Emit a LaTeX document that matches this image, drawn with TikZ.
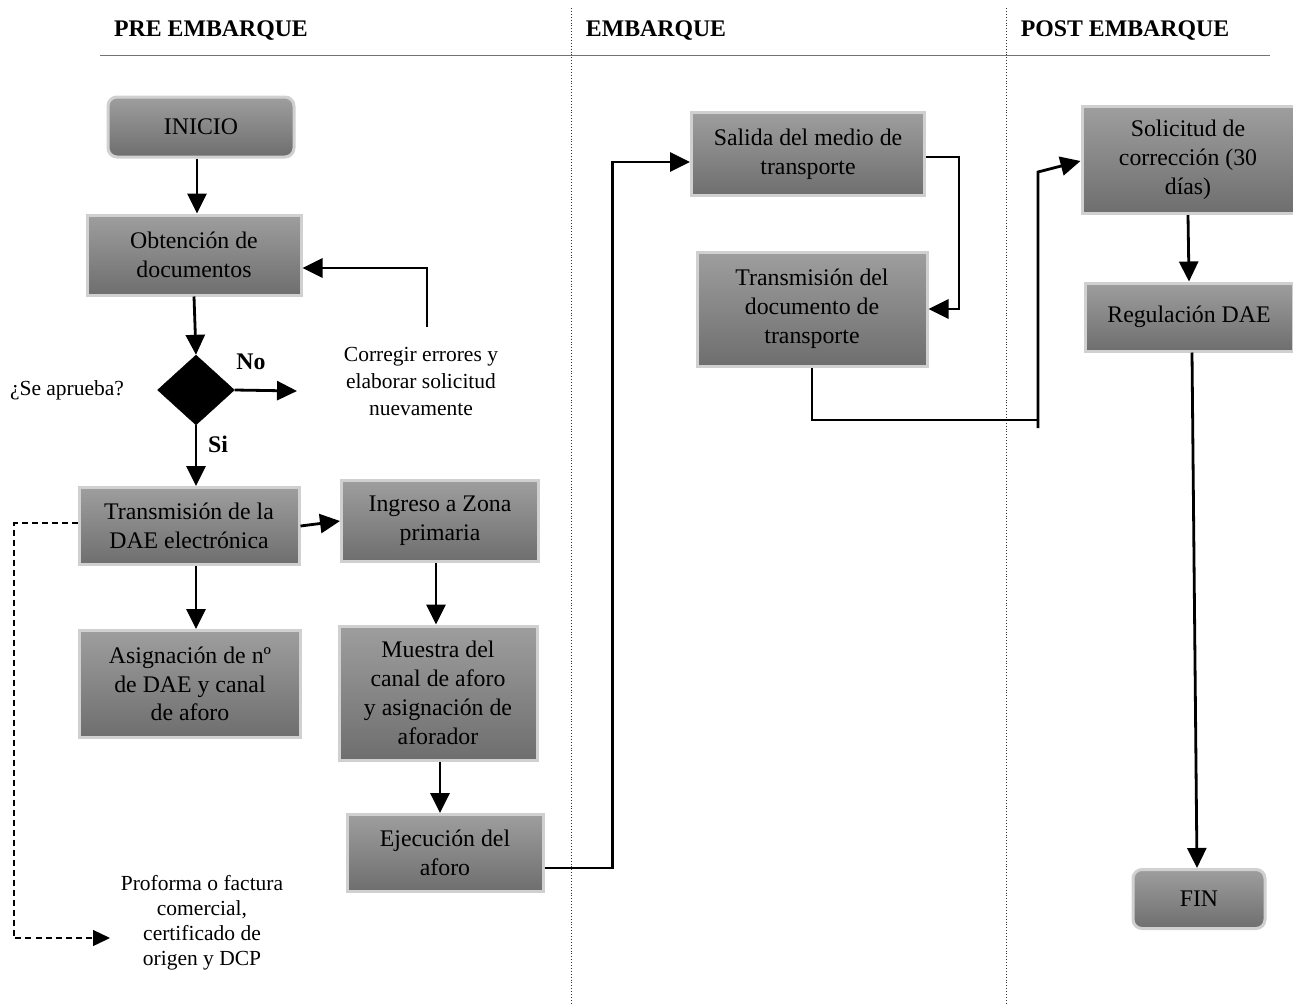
\documentclass[tikz,border=0pt]{standalone}
\usepackage{fontspec}
\setmainfont{Liberation Serif}
\usetikzlibrary{arrows.meta,shapes.geometric,calc}
\definecolor{boxtop}{RGB}{158,158,158}
\definecolor{boxbot}{RGB}{110,110,110}
\definecolor{boxedge}{RGB}{208,208,208}
\tikzset{
  procbox/.style={rectangle, draw=boxedge, line width=3pt, top color=boxtop, bottom color=boxbot,
    align=center, inner sep=2pt, font=\fontsize{23.8}{28.8}\selectfont},
  termbox/.style={procbox, rounded corners=9pt},
  lbl/.style={align=center, inner sep=0pt, font=\fontsize{21.5}{27}\selectfont},
  hdr/.style={inner sep=0pt, font=\fontsize{23.8}{28}\selectfont\bfseries},
  arr/.style={line width=2.8pt, -{Triangle[length=20pt,width=19pt]}},
  ln/.style={line width=2.8pt},
  dsh/.style={line width=1.4pt, dash pattern=on 6pt off 4pt, -{Triangle[length=17pt,width=16pt]}},
  sep/.style={line width=0.9pt, dotted, black!80},
}
\begin{document}
\begin{tikzpicture}[x=1pt,y=-1pt]
\useasboundingbox (0,0) rectangle (1293,1004);
% lanes
\draw[sep] (571,8) -- (571,1004);
\draw[sep] (1006,8) -- (1006,1004);
\draw[line width=1pt, black!55] (100,55) -- (1270,55);
\node[hdr] (h1) at (211,31) {PRE EMBARQUE};
\node[hdr] (h2) at (656,31) {EMBARQUE};
\node[hdr] (h3) at (1125,31) {POST EMBARQUE};
% nodes
\node[termbox, minimum width=186pt, minimum height=60pt] (inicio) at (201,127) {INICIO};
\node[procbox, minimum width=214pt, minimum height=80pt] (obt) at (194,255) {Obtención de\\documentos};
\node[diamond, fill=black, draw=black, minimum width=77pt, minimum height=70pt, inner sep=0pt] (dia) at (196,390) {};
\node[lbl] (sapr) at (67,390) {¿Se aprueba?};
\node[hdr] (no) at (251,362) {No};
\node[hdr] (si) at (218,444) {Si};
\node[lbl] (corr) at (421,381) {Corregir errores y\\elaborar solicitud\\nuevamente};
\node[procbox, minimum width=220pt, minimum height=77pt] (trans) at (189,526) {Transmisión de la\\DAE electrónica};
\node[procbox, minimum width=197pt, minimum height=81pt] (ingreso) at (440,521) {Ingreso a Zona\\primaria};
\node[procbox, minimum width=221pt, minimum height=107pt] (asig) at (190,684) {Asignación de nº\\de DAE y canal\\de aforo};
\node[procbox, minimum width=198pt, minimum height=134pt] (muestra) at (438,693) {Muestra del\\canal de aforo\\y asignación de\\aforador};
\node[procbox, minimum width=196pt, minimum height=77pt] (ejec) at (445,853) {Ejecución del\\aforo};
\node[lbl, font=\fontsize{21.5}{25}\selectfont] (prof) at (202,923) {Proforma o factura\\comercial,\\certificado de\\origen y DCP};
\node[procbox, minimum width=233pt, minimum height=83pt] (salida) at (808,154) {Salida del medio de\\transporte};
\node[procbox, minimum width=230pt, minimum height=114pt] (transdoc) at (812,309) {Transmisión del\\documento de\\transporte};
\node[procbox, minimum width=212pt, minimum height=107pt] (solic) at (1188,160) {Solicitud de\\corrección (30\\días)};
\node[procbox, minimum width=208pt, minimum height=68pt] (regul) at (1189,317) {Regulación DAE};
\node[termbox, minimum width=132pt, minimum height=59pt] (fin) at (1199,899) {FIN};
\coordinate (noend) at (297,391);
\coordinate (corrtop) at (427,327);
\coordinate (proftip) at (110,938);
% connectors
\draw[arr] (inicio.south -| 197,0) -- (obt.north -| 197,0);
\draw[arr] (obt.south) -- (dia.north);
\draw[arr] (dia.east) -- (noend);
\draw[arr] (corrtop) |- ($(obt.east)+(0,13)$);
\draw[arr] (dia.south) -- (trans.north -| dia.south);
\draw[arr] (trans.east) -- (ingreso.west);
\draw[arr] (trans.south -| 196,0) -- (asig.north -| 196,0);
\draw[arr] (ingreso.south -| 436,0) -- (muestra.north -| 436,0);
\draw[arr] (muestra.south -| 440,0) -- (ejec.north -| 440,0);
\draw[arr] ($(ejec.east)+(0,15)$) -- ++(68,0) |- ($(salida.west)+(0,8)$);
\draw[arr] ($(salida.east)+(0,3)$) -- ++(33,0) |- (transdoc.east);
\draw[ln] (transdoc.south) |- (1038,420);
\draw[arr] (1038,428) -- (1038,172) -- ($(solic.west)+(0,1)$);
\draw[arr] (solic.south) -- (regul.north);
\draw[arr] ($(regul.south)+(3,0)$) -- ($(fin.north)+(-2,0)$);
\draw[dsh] ($(trans.west)+(0,-3)$) -| (14,600) |- (proftip);
\end{tikzpicture}
\end{document}
